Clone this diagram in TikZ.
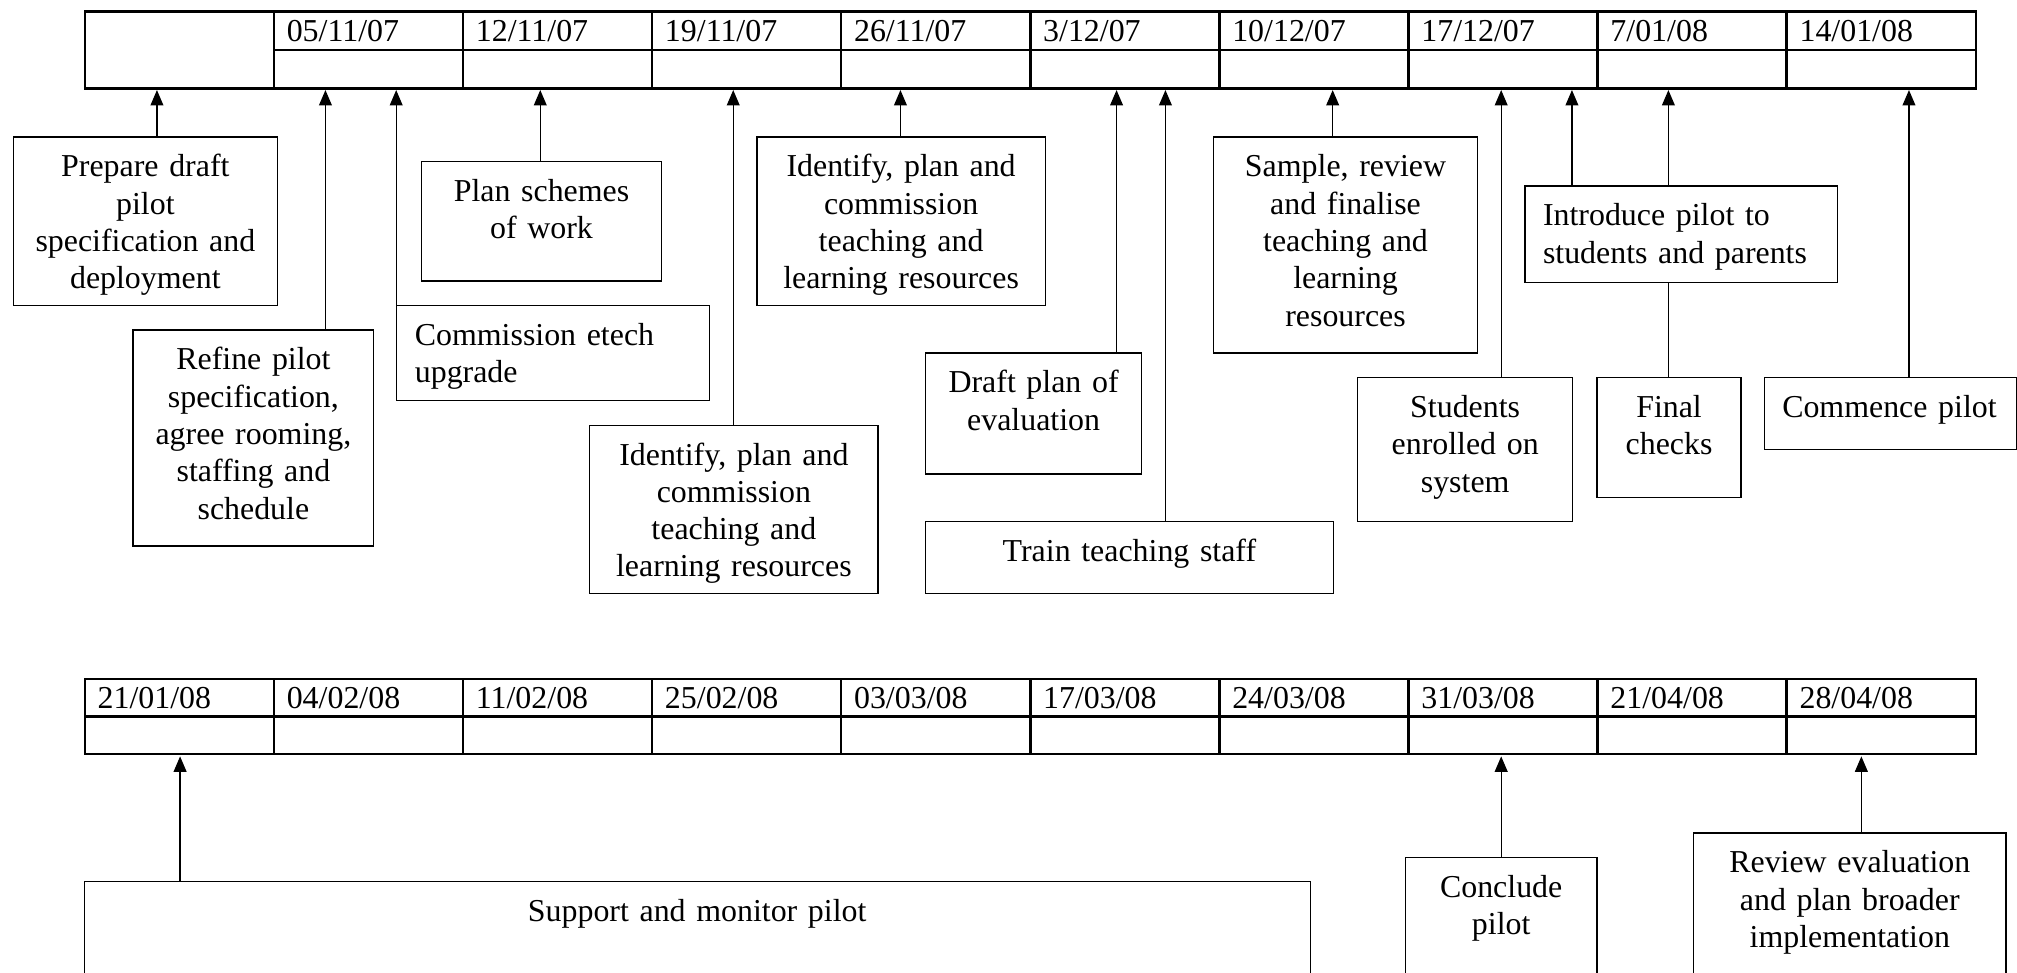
\documentclass[tikz,border=0pt]{standalone}
\usepackage{fontspec}
\setmainfont{Liberation Serif}
\usetikzlibrary{arrows.meta}

\begin{document}
\begin{tikzpicture}[x=1pt, y=-1pt,
    task/.style={draw, line width=0.5pt, anchor=north west, align=center, inner xsep=4pt, inner ysep=0pt, text height=15.5pt, font=\fontsize{12.4}{14.5}\selectfont},
    taskl/.style={task, align=left, inner xsep=7pt},
    cell/.style={draw, line width=0.95pt, anchor=north west, minimum width=73.5pt, minimum height=15pt, inner sep=0pt},
    datecell/.style={cell, align=left, text width=63.5pt, inner xsep=5pt, text height=11.7pt, text depth=3.3pt, font=\fontsize{12.4}{14.5}\selectfont},
    arrow/.style={-{Triangle[length=6pt, width=5pt]}, line width=0.5pt},
    link/.style={line width=0.5pt}
]
    \useasboundingbox (0,0) rectangle (784,378);
    \clip (0,0) rectangle (784,378);

    % Top time line
    \node[cell, minimum height=30pt] (start) at (32.5,4) {};
    \foreach \wk [count=\i] in {05/11/07, 12/11/07, 19/11/07, 26/11/07, 3/12/07, 10/12/07, 17/12/07, 7/01/08, 14/01/08} {
        \node[datecell] (wk\i) at ({32.5+73.5*\i},4) {\wk};
        \node[cell] (wkb\i) at ({32.5+73.5*\i},19) {};
    }

    % Bottom time line
    \foreach \wk [count=\i] in {21/01/08, 04/02/08, 11/02/08, 25/02/08, 03/03/08, 17/03/08, 24/03/08, 31/03/08, 21/04/08, 28/04/08} {
        \node[datecell, minimum height=14.5pt, text height=11.4pt, text depth=3.1pt] (lt\i) at ({32.5+73.5*(\i-1)},263.5) {\wk};
        \node[cell, minimum height=14.5pt] (ltb\i) at ({32.5+73.5*(\i-1)},278) {};
    }

    % Arrow targets under the time lines
    \coordinate (aPrep) at (61,35);
    \coordinate (aRefine) at (126.5,35);
    \coordinate (aEtech) at (154,35);
    \coordinate (aPlan) at (210,35);
    \coordinate (aIdLow) at (285,35);
    \coordinate (aIdUp) at (350,35);
    \coordinate (aDraft) at (434,35);
    \coordinate (aTrain) at (453,35);
    \coordinate (aSample) at (518,35);
    \coordinate (aStudents) at (583.5,35);
    \coordinate (aIntro) at (611,35);
    \coordinate (aFinal) at (648.5,35);
    \coordinate (aCommence) at (742,35);
    \coordinate (aSupport) at (70,294);
    \coordinate (aConclude) at (583.5,294);
    \coordinate (aReview) at (723.5,294);

    % Tasks before the pilot
    \node[task, text width=94.5pt, text depth=50pt] (prep) at (5,53) {Prepare draft\\ pilot\\ specification and\\ deployment};
    \node[task, text width=85.5pt, text depth=68.5pt] (refine) at (51.5,128) {Refine pilot\\ specification,\\ agree rooming,\\ staffing and\\ schedule};
    \node[task, text width=85.5pt, text depth=31pt] (plan) at (163.5,62.5) {Plan schemes\\ of work};
    \node[taskl, text width=107.5pt, text depth=21.5pt] (etech) at (154,118.5) {Commission etech\\ upgrade};
    \node[task, text width=104pt, text depth=50pt] (idlow) at (229,165) {Identify, plan and\\ commission\\ teaching and\\ learning resources};
    \node[task, text width=104pt, text depth=50pt] (idup) at (294,53) {Identify, plan and\\ commission\\ teaching and\\ learning resources};
    \node[task, text width=76pt, text depth=31.5pt] (draft) at (359.5,137) {Draft plan of\\ evaluation};
    \node[task, text width=150.5pt, text depth=12.5pt] (train) at (359.5,202.5) {Train teaching staff};
    \node[task, text width=94.5pt, text depth=68.5pt] (sample) at (471.5,53) {Sample, review\\ and finalise\\ teaching and\\ learning\\ resources};
    \node[task, text width=75.5pt, text depth=40.5pt] (students) at (527.5,146.5) {Students\\ enrolled on\\ system};
    \node[taskl, text width=107.5pt, text depth=22pt] (intro) at (592.5,72) {Introduce pilot to\\ students and parents};
    \node[task, text width=48pt, text depth=31pt] (final) at (620.5,146.5) {Final\\ checks};
    \node[taskl, text width=84pt, text depth=12.5pt] (commence) at (685.5,146.5) {Commence pilot};

    % Tasks during and after the pilot
    \node[task, text width=468.5pt, text depth=37pt] (support) at (32.5,342.5) {Support and monitor pilot};
    \node[task, text width=66.5pt, text depth=47pt] (conclude) at (546,333) {Conclude\\ pilot};
    \node[task, text width=113.5pt, text depth=56.5pt] (review) at (658,323.5) {Review evaluation\\ and plan broader\\ implementation};

    % Connectors
    \draw[arrow] (aPrep |- prep.north) -- (aPrep);
    \draw[arrow] (aRefine |- refine.north) -- (aRefine);
    \draw[arrow] (aEtech |- etech.north) -- (aEtech);
    \draw[arrow] (aPlan |- plan.north) -- (aPlan);
    \draw[arrow] (aIdLow |- idlow.north) -- (aIdLow);
    \draw[arrow] (aIdUp |- idup.north) -- (aIdUp);
    \draw[arrow] (aDraft |- draft.north) -- (aDraft);
    \draw[arrow] (aTrain |- train.north) -- (aTrain);
    \draw[arrow] (aSample |- sample.north) -- (aSample);
    \draw[arrow] (aStudents |- students.north) -- (aStudents);
    \draw[arrow] (aIntro |- intro.north) -- (aIntro);
    \draw[link] (aFinal |- final.north) -- (aFinal |- intro.south);
    \draw[arrow] (aFinal |- intro.north) -- (aFinal);
    \draw[arrow] (aCommence |- commence.north) -- (aCommence);

    \draw[arrow] (aSupport |- support.north) -- (aSupport);
    \draw[arrow] (aConclude |- conclude.north) -- (aConclude);
    \draw[arrow] (aReview |- review.north) -- (aReview);
\end{tikzpicture}
\end{document}
